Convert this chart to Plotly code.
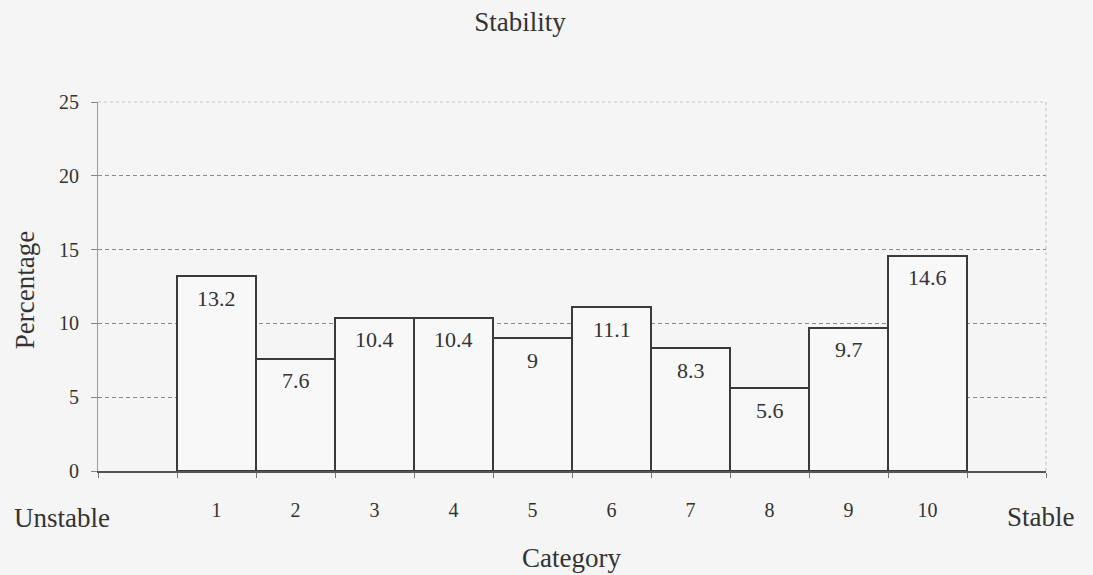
import plotly.graph_objects as go

# Stability categories and share of responses (%)
categories = [1, 2, 3, 4, 5, 6, 7, 8, 9, 10]
percentages = [13.2, 7.6, 10.4, 10.4, 9, 11.1, 8.3, 5.6, 9.7, 14.6]
y_ticks = [0, 5, 10, 15, 20, 25]

FONT = "Liberation Serif, Times New Roman, serif"
INK = "#333333"
BG = "#f5f5f5"

fig = go.Figure(
    go.Bar(
        x=categories,
        y=percentages,
        width=1.0,
        marker=dict(color="#f8f8f8", line=dict(color="#3a3a3a", width=2)),
        hoverinfo="x+y",
    )
)

# Value labels sit just inside the top of each bar
for c, v in zip(categories, percentages):
    fig.add_annotation(
        x=c, y=v, xref="x", yref="y", text=f"{v:g}", showarrow=False,
        yanchor="middle", yshift=-22,
        font=dict(family=FONT, size=22, color=INK),
    )

fig.update_layout(
    width=1093,
    height=575,
    margin=dict(l=98, r=47, t=102, b=104),
    paper_bgcolor=BG,
    plot_bgcolor=BG,
    showlegend=False,
    font=dict(family=FONT, color=INK, size=20),
    title=dict(
        text="Stability",
        x=520 / 1093,
        xanchor="center",
        xref="container",
        y=1 - 22 / 575,
        yanchor="middle",
        yref="container",
        font=dict(family=FONT, size=27, color=INK),
    ),
    bargap=0,
)

fig.update_xaxes(
    type="linear",
    range=[-0.5, 11.5],
    tickmode="array",
    tickvals=categories,
    ticktext=[str(c) for c in categories],
    ticks="",
    ticklabelstandoff=20,
    tickfont=dict(family=FONT, size=20, color=INK),
    showgrid=False,
    zeroline=False,
    showline=True,
    linecolor="#555555",
    linewidth=1.5,
    minor=dict(tick0=0.5, dtick=1, ticks="outside", ticklen=5, tickcolor="#777777", showgrid=False),
)

fig.update_yaxes(
    range=[0, 25],
    tickmode="array",
    tickvals=y_ticks,
    ticks="outside",
    ticklen=6,
    tickcolor="#888888",
    ticklabelstandoff=8,
    tickfont=dict(family=FONT, size=20, color=INK),
    showgrid=True,
    gridcolor="#8a8a8a",
    griddash="4px,3px",
    gridwidth=1,
    zeroline=False,
    showline=True,
    linecolor="#999999",
    linewidth=1,
)

# Light dotted frame on the top and right edges of the plot area
fig.add_shape(type="line", xref="paper", yref="paper", x0=0, x1=1, y0=1, y1=1,
              line=dict(color="#c8c8c8", width=1.2, dash="dot"))
fig.add_shape(type="line", xref="paper", yref="paper", x0=1, x1=1, y0=0, y1=1,
              line=dict(color="#c8c8c8", width=1.2, dash="dot"))

annotations = [
    dict(text="Percentage", x=-0.077, y=0.49, textangle=-90),
    dict(text="Category", x=0.499, y=-0.236, textangle=0),
    dict(text="Unstable", x=-0.038, y=-0.127, textangle=0),
    dict(text="Stable", x=0.995, y=-0.125, textangle=0),
]
for a in annotations:
    fig.add_annotation(
        text=a["text"], x=a["x"], y=a["y"], xref="paper", yref="paper",
        xanchor="center", yanchor="middle", showarrow=False, textangle=a["textangle"],
        font=dict(family=FONT, size=27, color=INK),
    )

fig.write_html("out.html")
